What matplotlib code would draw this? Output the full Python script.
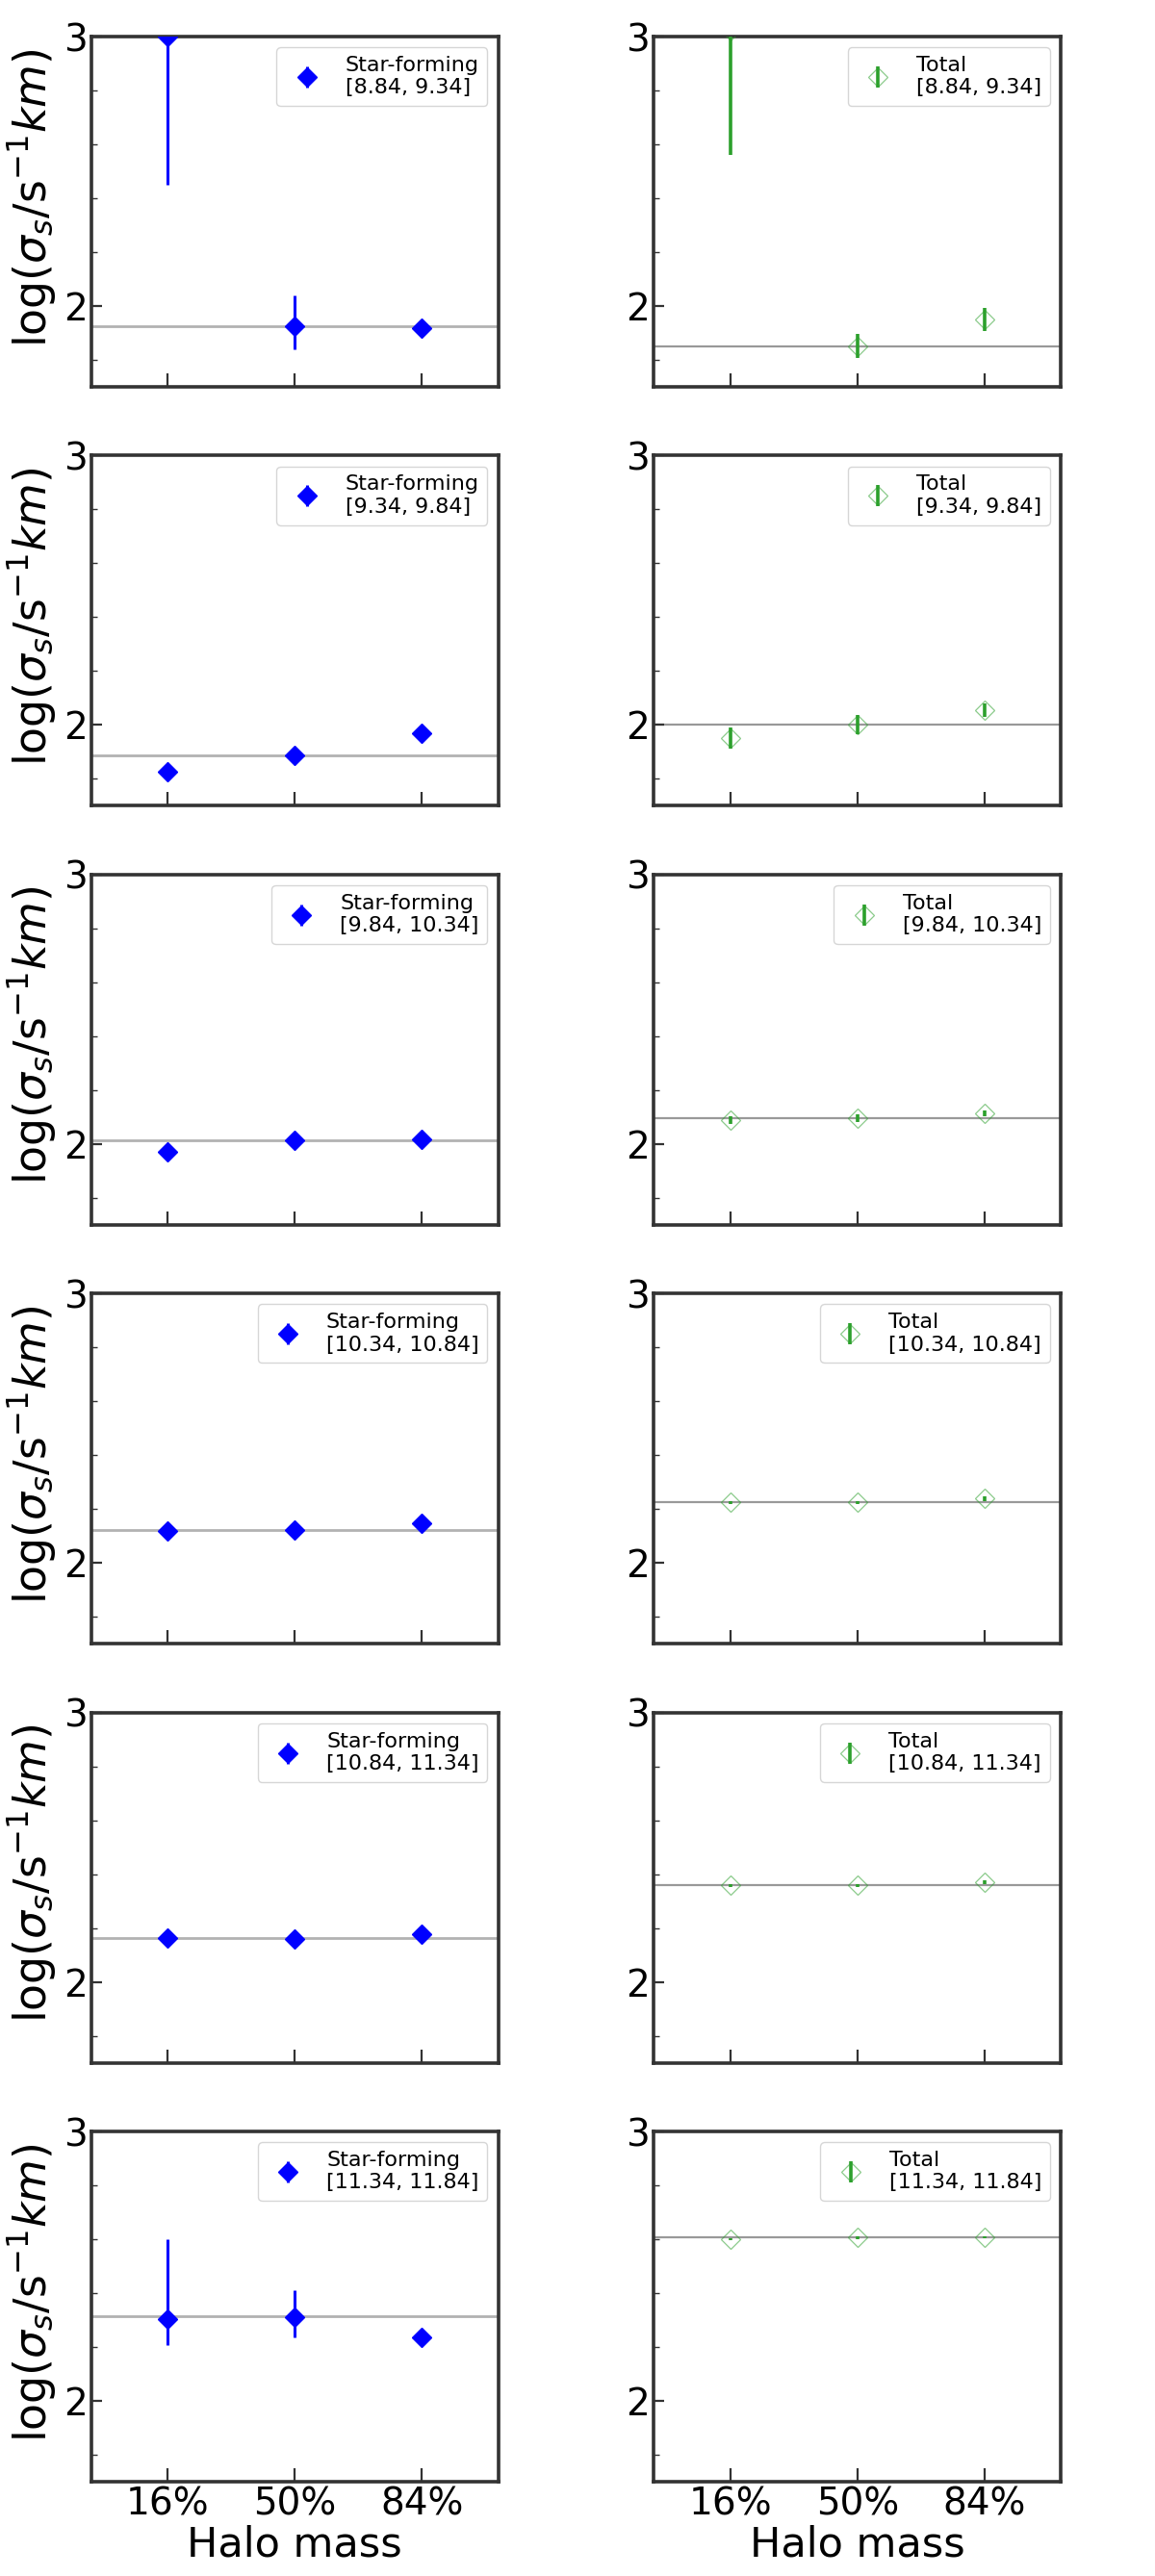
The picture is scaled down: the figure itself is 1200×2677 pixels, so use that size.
import matplotlib
matplotlib.use("Agg")
import matplotlib.pyplot as plt
from matplotlib.ticker import MultipleLocator, FixedLocator

# ---------------- data ----------------
x_pos = [1, 2, 3]
x_labels = ["16%", "50%", "84%"]
bins = ["[8.84, 9.34]", "[9.34, 9.84]", "[9.84, 10.34]",
        "[10.34, 10.84]", "[10.84, 11.34]", "[11.34, 11.84]"]

# Star-forming (left column)
sf_val = [[3.00, 1.925, 1.916],
          [1.825, 1.887, 1.968],
          [1.970, 2.012, 2.018],
          [2.120, 2.123, 2.146],
          [2.164, 2.161, 2.179],
          [2.305, 2.310, 2.236]]
sf_err_lo = [[0.55, 0.087, 0.03],
             [0.03, 0.03, 0.025],
             [0.02, 0.02, 0.02],
             [0.02, 0.02, 0.02],
             [0.02, 0.02, 0.02],
             [0.099, 0.074, 0.02]]
sf_err_hi = [[0.55, 0.113, 0.03],
             [0.03, 0.03, 0.025],
             [0.02, 0.02, 0.02],
             [0.02, 0.02, 0.02],
             [0.02, 0.02, 0.02],
             [0.297, 0.102, 0.02]]
sf_ref = [1.925, 1.887, 2.012, 2.123, 2.164, 2.314]

# Total (right column)
tot_val = [[3.02, 1.850, 1.949],
           [1.952, 2.000, 2.056],
           [2.089, 2.095, 2.113],
           [2.224, 2.224, 2.239],
           [2.358, 2.358, 2.370],
           [2.600, 2.606, 2.609]]
tot_err_lo = [[0.46, 0.045, 0.042],
              [0.04, 0.035, 0.025],
              [0.015, 0.015, 0.012],
              [0.005, 0.005, 0.008],
              [0.004, 0.004, 0.006],
              [0.004, 0.004, 0.004]]
tot_err_hi = [[0.46, 0.045, 0.042],
              [0.04, 0.035, 0.025],
              [0.015, 0.015, 0.012],
              [0.005, 0.005, 0.008],
              [0.004, 0.004, 0.006],
              [0.004, 0.004, 0.004]]
tot_ref = [1.850, 2.000, 2.095, 2.227, 2.358, 2.606]

# ---------------- figure ----------------
fig, axes = plt.subplots(6, 2, figsize=(12, 26.77), dpi=100)
fig.subplots_adjust(left=0.0792, right=0.9183, top=0.9858, bottom=0.0366,
                    hspace=0.197, wspace=0.383)

ylabel = r'log($\sigma_s$/s$^{-1}km$)'
tick_fs = 28
leg_fs = 16

for r in range(6):
    for c in range(2):
        ax = axes[r, c]
        if c == 0:
            vals, lo, hi, ref = sf_val[r], sf_err_lo[r], sf_err_hi[r], sf_ref[r]
            ax.axhline(ref, color='gray', lw=2.0, alpha=0.6, zorder=1)
            eb = ax.errorbar(x_pos, vals, yerr=[lo, hi], fmt='D', color='blue',
                             ms=10.5, elinewidth=2.2, capsize=0, zorder=3,
                             label="Star-forming\n" + bins[r])
        else:
            vals, lo, hi, ref = tot_val[r], tot_err_lo[r], tot_err_hi[r], tot_ref[r]
            ax.axhline(ref, color='gray', lw=1.6, alpha=0.8, zorder=1)
            eb = ax.errorbar(x_pos, vals, yerr=[lo, hi], fmt='D', color='tab:green',
                             mfc='none', mec='tab:green', mew=0.9, ms=10.5,
                             elinewidth=2.6, capsize=0, zorder=3,
                             label="Total\n" + bins[r])
            eb[0].set_alpha(0.55)
        ax.set_xlim(0.4, 3.6)
        ax.set_ylim(1.7, 3.0)
        ax.xaxis.set_major_locator(FixedLocator(x_pos))
        ax.yaxis.set_major_locator(MultipleLocator(1))
        ax.yaxis.set_minor_locator(MultipleLocator(0.2))
        ax.tick_params(axis='both', which='major', direction='in', length=8,
                       width=1.6, labelsize=tick_fs, pad=3, color='#333333')
        ax.tick_params(axis='y', which='minor', direction='in', length=4,
                       width=1.0, color='#333333')
        ax.tick_params(axis='x', which='major', length=10)
        for sp in ax.spines.values():
            sp.set_linewidth(2.6)
            sp.set_color('#333333')
        if r == 5:
            ax.set_xticklabels(x_labels)
            ax.set_xlabel("Halo mass", fontsize=31, labelpad=2)
        else:
            ax.set_xticklabels([])
        if c == 0:
            ax.set_ylabel(ylabel, fontsize=33)
            ax.yaxis.set_label_coords(-0.08, 0.54)
        ax.legend(loc='upper right', fontsize=leg_fs, handletextpad=0.8)

fig.savefig("out.png", dpi=100)
